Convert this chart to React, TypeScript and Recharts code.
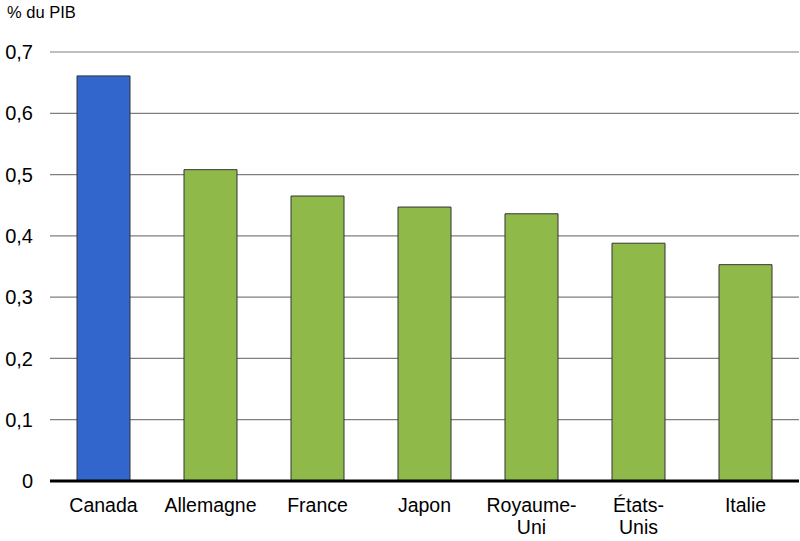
import { Bar, BarChart, CartesianGrid, Cell, XAxis, YAxis } from "recharts"

const COUNTRIES = ["Canada", "Allemagne", "France", "Japon", "Royaume-\nUni", "États-\nUnis", "Italie"]
const VALUES = [0.661, 0.508, 0.465, 0.447, 0.436, 0.388, 0.353]
const Y_TICKS = [0, 0.1, 0.2, 0.3, 0.4, 0.5, 0.6, 0.7]

const BLUE = "#3366cc"
const GREEN = "#8fba4a"
const FONT = "Liberation Sans, Arial, sans-serif"

const data = COUNTRIES.map((name, i) => ({ name, value: VALUES[i] }))

const CountryTick = (props: any) => {
  const { x, y, payload } = props
  const lines = String(payload.value).split("\n")
  return (
    <text x={x} y={y} textAnchor="middle" fill="#000" fontSize={19.5} fontFamily={FONT}>
      {lines.map((line, i) => (
        <tspan key={i} x={x} dy={i === 0 ? 23 : 22}>
          {line}
        </tspan>
      ))}
    </text>
  )
}

export default function App() {
  return (
    <div style={{ position: "absolute", left: 0, top: 0, width: 800, height: 541, background: "#fff" }}>
      <div
        style={{
          position: "absolute",
          left: 7,
          top: 3,
          fontFamily: FONT,
          fontSize: 16.5,
          color: "#000",
        }}
      >
        % du PIB
      </div>
      <BarChart
        width={800}
        height={541}
        data={data}
        margin={{ top: 52, right: 1, left: 0, bottom: 0 }}
      >
        <CartesianGrid vertical={false} stroke="#7f7f7f" strokeWidth={1.2} />
        <XAxis
          dataKey="name"
          interval={0}
          tickLine={false}
          axisLine={{ stroke: "#000", strokeWidth: 3 }}
          tick={<CountryTick />}
          height={60}
        />
        <YAxis
          width={50}
          domain={[0, 0.7]}
          ticks={Y_TICKS}
          axisLine={false}
          tickLine={false}
          tickSize={0}
          tickMargin={17}
          tick={{ fill: "#000", fontSize: 20, fontFamily: FONT }}
          tickFormatter={(v: number) => (v === 0 ? "0" : v.toFixed(1).replace(".", ","))}
        />
        <Bar dataKey="value" barSize={53} stroke="#333" strokeWidth={1} isAnimationActive={false}>
          {data.map((d, i) => (
            <Cell key={d.name} fill={i === 0 ? BLUE : GREEN} />
          ))}
        </Bar>
      </BarChart>
    </div>
  )
}
